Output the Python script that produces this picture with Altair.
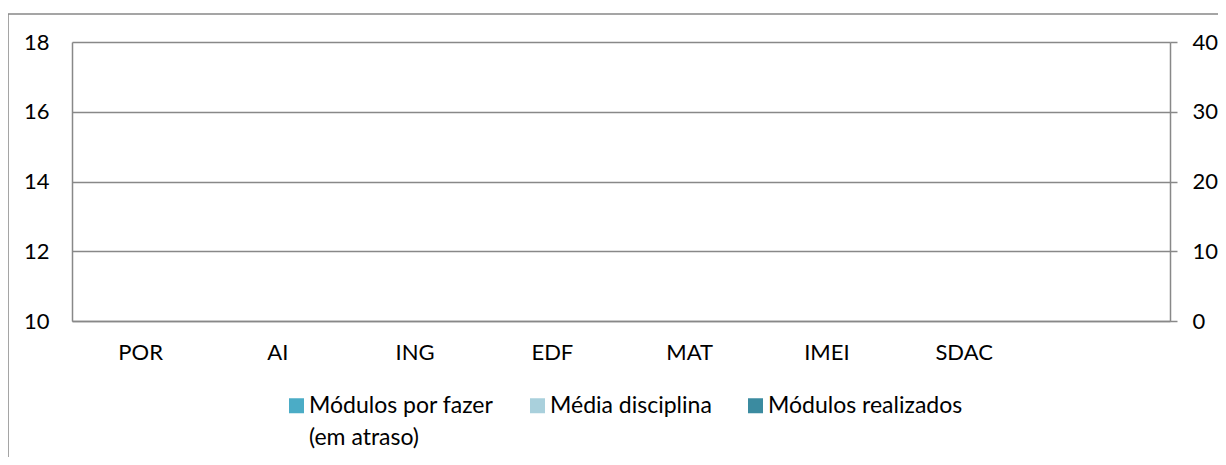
import altair as alt
import pandas as pd

# ---- data (the reference chart shows no bars: all values empty) ----
categories = ["POR", "AI", "ING", "EDF", "MAT", "IMEI", "SDAC", " "]
series = ["Módulos por fazer (em atraso)", "Média disciplina", "Módulos realizados"]
colors = ["#4BACC6", "#A9D0DC", "#3B8BA0"]

modulos_por_fazer = [None, None, None, None, None, None, None, None]
media_disciplina = [None, None, None, None, None, None, None, None]
modulos_realizados = [None, None, None, None, None, None, None, None]

left_ticks = [10, 12, 14, 16, 18]
right_ticks = [0, 10, 20, 30, 40]

FONT = "Lato"
FS = 22
LFS = 23
GRAY = "#888888"

left_df = pd.DataFrame({"cat": categories, "serie": series[1], "valor": media_disciplina})
right_df = pd.concat([
    pd.DataFrame({"cat": categories, "serie": series[0], "valor": modulos_por_fazer}),
    pd.DataFrame({"cat": categories, "serie": series[2], "valor": modulos_realizados}),
])

x_enc = alt.X("cat:N", scale=alt.Scale(domain=categories, paddingInner=0.3, paddingOuter=0.15),
              axis=alt.Axis(title=None, labelAngle=0, ticks=False, domainColor=GRAY, domainWidth=1.5,
                            labelPadding=21, labelFontSize=FS, labelColor="#000000"))
color_enc = alt.Color("serie:N", scale=alt.Scale(domain=series, range=colors),
                      legend=alt.Legend(
                          title=None, orient="none", direction="horizontal",
                          legendX=213, legendY=352,
                          symbolType="square", symbolSize=225, symbolStrokeWidth=0,
                          labelFontSize=LFS, labelFont=FONT, labelLimit=0,
                          columnPadding=32, labelOffset=1,
                          labelBaseline="middle",
                          labelExpr="datum.label == 'Módulos por fazer (em atraso)' ? ['Módulos por fazer', '(em atraso)'] : [datum.label, '']",
                      ))

left = alt.Chart(left_df).mark_bar().encode(
    x=x_enc,
    xOffset=alt.XOffset("serie:N", scale=alt.Scale(domain=series)),
    y=alt.Y("valor:Q", scale=alt.Scale(domain=[10, 18], zero=False, nice=False),
            axis=alt.Axis(title=None, orient="left", values=left_ticks, grid=True, gridColor=GRAY,
                          gridWidth=1.5, ticks=False, domainColor=GRAY, domainWidth=1.5,
                          labelPadding=23, labelFontSize=FS, labelColor="#000000")),
    color=color_enc,
)

right = alt.Chart(right_df).mark_bar().encode(
    x=x_enc,
    xOffset=alt.XOffset("serie:N", scale=alt.Scale(domain=series)),
    y=alt.Y("valor:Q", scale=alt.Scale(domain=[0, 40], nice=False),
            axis=alt.Axis(title=None, orient="right", values=right_ticks, grid=False,
                          ticks=True, tickSize=7, tickColor=GRAY, tickWidth=1.5,
                          domainColor=GRAY, domainWidth=1.5,
                          labelPadding=15, labelFontSize=FS, labelColor="#000000")),
    color=color_enc,
)

border = alt.Chart(alt.Data(values=[{}])).mark_rect(
    fillOpacity=0, stroke=GRAY, strokeWidth=1.5
).encode(x=alt.value(-64), x2=alt.value(1300), y=alt.value(-28), y2=alt.value(700))

chart = alt.layer(border, left, right).resolve_scale(y="independent").properties(
    width=1098, height=279,
    padding={"left": 64, "top": 34, "right": 48, "bottom": 136},
    autosize=alt.AutoSizeParams(type="none"),
).configure(
    font=FONT, style={"guide-label": {"lineHeight": 32}}
).configure_view(strokeWidth=0).configure_axis(labelFont=FONT)

chart.save("out.html", embed_options={"renderer": "svg", "actions": False})
